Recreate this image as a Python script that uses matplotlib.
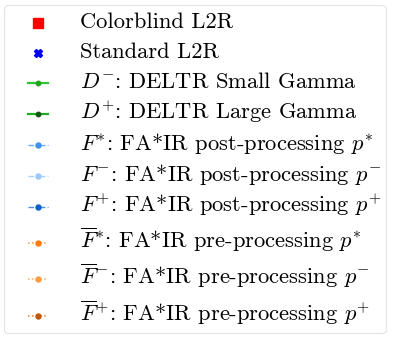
import numpy as np
import matplotlib
matplotlib.use("Agg")
import matplotlib.pyplot as plt
from matplotlib.lines import Line2D
from matplotlib.legend_handler import HandlerLine2D

plt.rcParams['font.family'] = ['cmr10', 'DejaVu Serif']
plt.rcParams['mathtext.fontset'] = 'cm'
plt.rcParams['axes.unicode_minus'] = False

# ---- legend content ----
labels = [
    r"Colorblind L2R",
    r"Standard L2R",
    r"$D^{-}$: DELTR Small Gamma",
    r"$D^{+}$: DELTR Large Gamma",
    r"$F^{*}$: FA*IR post-processing $p^{*}$",
    r"$F^{-}$: FA*IR post-processing $p^{-}$",
    r"$F^{+}$: FA*IR post-processing $p^{+}$",
    r"$\overline{F}^{*}$: FA*IR pre-processing $p^{*}$",
    r"$\overline{F}^{-}$: FA*IR pre-processing $p^{-}$",
    r"$\overline{F}^{+}$: FA*IR pre-processing $p^{+}$",
]
line_colors = ["#ff0000", "#0000ff", "#33c433", "#22aa22",
               "#6aaef5", "#a8d0fa", "#4a90e2",
               "#ff9a3c", "#ffac60", "#e0803a"]
marker_colors = ["#ff0000", "#0000ff", "#1fa81f", "#0f5a0f",
                 "#3d90f0", "#9cc8fa", "#0b5ec8",
                 "#ff7a0a", "#ff9a40", "#c25708"]
markers = ["s", "X", "o", "o", "o", "o", "o", "o", "o", "o"]
linestyles = ["none", "none", "-",
              "-", (0, (4, 1.6, 1, 1.6)), (0, (4, 1.6, 1, 1.6)),
              (0, (4, 1.6, 1, 1.6)), ":", ":", ":"]

# ---- styling / layout (pixels at 100 dpi) ----
marker_sizes = [6.5, 6, 3.2, 3.2, 3.6, 3.6, 3.6, 3.6, 3.6, 3.6]
line_widths = [1, 1, 1.6, 1.6, 1.0, 1.0, 1.0, 1.1, 1.1, 1.1]
row_ascent_px = [18.5, 22, 22, 23, 23, 23, 23, 28, 28, 29]
row_descent_px = [8, 8, 8, 8, 8, 8, 8, 8, 8, 8.5]
marker_above_baseline_px = 4.5
PX2PT = 0.72


class RowHandler(HandlerLine2D):
    def __init__(self, asc, desc, marker_y, **kw):
        super().__init__(**kw)
        self.asc, self.desc, self.my = asc, desc, marker_y

    def create_artists(self, legend, orig_handle, xdescent, ydescent,
                       width, height, fontsize, trans):
        arts = super().create_artists(legend, orig_handle, xdescent, ydescent,
                                      width, height, fontsize, trans)
        for a in arts:
            a.set_ydata(np.full(len(a.get_xdata()), self.my))
        return arts

    def legend_artist(self, legend, orig_handle, fontsize, handlebox):
        art = super().legend_artist(legend, orig_handle, fontsize, handlebox)
        handlebox.ydescent = self.desc
        handlebox.height = self.asc + self.desc
        return art


fig = plt.figure(figsize=(3.95, 3.39), dpi=100)
handles = []
hmap = {}
for i, (lc, mc, m, ls, ms, lw) in enumerate(zip(line_colors, marker_colors, markers,
                                               linestyles, marker_sizes, line_widths)):
    h = Line2D([], [], color=lc, marker=m, markerfacecolor=mc,
               markeredgecolor=mc, linestyle=ls, markersize=ms, linewidth=lw)
    handles.append(h)
    hmap[h] = RowHandler(row_ascent_px[i] * PX2PT, row_descent_px[i] * PX2PT,
                         marker_above_baseline_px * PX2PT, xpad=0.887)

leg = fig.legend(handles, labels, loc="upper left",
                 bbox_to_anchor=(3.5 / 395, 1 - 5 / 339), borderaxespad=0,
                 fontsize=16.2, handlelength=1.81, handletextpad=1.42,
                 labelspacing=0, borderpad=0.18,
                 frameon=True, fancybox=True, handler_map=hmap)
leg.get_frame().set_edgecolor("#dcdcdc")
leg.get_frame().set_linewidth(0.8)

fig.savefig("out.png", dpi=100)
